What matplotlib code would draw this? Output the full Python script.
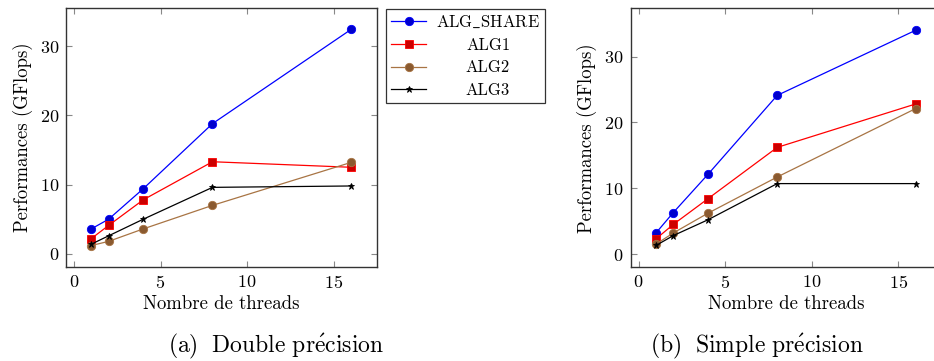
import matplotlib
matplotlib.use("Agg")
import matplotlib.pyplot as plt
from matplotlib.lines import Line2D

plt.rcParams['font.family'] = ['cmr10', 'DejaVu Serif']
plt.rcParams['axes.formatter.use_mathtext'] = True
plt.rcParams['mathtext.fontset'] = 'cm'

# nombre de threads
threads = [1, 2, 4, 8, 16]
labels = [r'$\mathrm{ALG\_SHARE}$', 'ALG1', 'ALG2', 'ALG3']
captions = [r'$\mathrm{(a)\ \ Double\ pr\acute{e}cision}$',
            r'$\mathrm{(b)\ \ Simple\ pr\acute{e}cision}$']

# (a) double precision
double_share = [3.6, 5.0, 9.4, 18.8, 32.4]
double_alg1 = [2.2, 4.1, 7.8, 13.3, 12.5]
double_alg2 = [1.2, 1.8, 3.6, 7.0, 13.2]
double_alg3 = [1.4, 2.6, 5.0, 9.6, 9.8]

# (b) simple precision
simple_share = [3.2, 6.3, 12.1, 24.1, 34.0]
simple_alg1 = [2.3, 4.5, 8.4, 16.2, 22.8]
simple_alg2 = [1.5, 3.2, 6.2, 11.7, 22.1]
simple_alg3 = [1.3, 2.8, 5.2, 10.7, 10.7]

# style pgfplots: (couleur ligne, remplissage marqueur, marqueur, taille)
styles = [
    ('#0000ff', '#0000cc', 'o', 6),
    ('#ff0000', '#cc0000', 's', 6),
    ('#a87444', '#8a5a30', 'o', 6),
    ('#000000', '#000000', '*', 5),
]

fig = plt.figure(figsize=(9.34, 3.61), dpi=100)

def draw_panel(ax, series, ylim):
    for ys, (lc, fc, m, ms) in zip(series, styles):
        ax.plot(threads, ys, color=lc, lw=0.9, marker=m, markersize=ms,
                markerfacecolor=fc, markeredgecolor=lc, markeredgewidth=0.6)
    ax.set_xlim(-0.46, 17.5)
    ax.set_ylim(*ylim)
    ax.set_xticks([0, 5, 10, 15])
    ax.set_yticks([0, 10, 20, 30])
    ax.tick_params(direction='in', top=True, right=True, color='#888888',
                   length=4, labelsize=13, pad=5)
    for s in ax.spines.values():
        s.set_linewidth(1.0)
        s.set_color('#333333')
    ax.set_xlabel('Nombre de threads', fontsize=13.5, labelpad=3)
    ax.set_ylabel('Performances (GFlops)', fontsize=13.5, labelpad=5)

ax1 = fig.add_axes([66 / 934, 94 / 361, 311 / 934, 259 / 361])
draw_panel(ax1, [double_share, double_alg1, double_alg2, double_alg3], (-1.9, 35.5))

ax2 = fig.add_axes([630.7 / 934, 94 / 361, 311 / 934, 258.5 / 361])
draw_panel(ax2, [simple_share, simple_alg1, simple_alg2, simple_alg3], (-1.97, 37.3))

fig.text(276 / 934, 1 - 346 / 361, captions[0], ha='center', va='center', fontsize=17)
fig.text(757 / 934, 1 - 346 / 361, captions[1], ha='center', va='center', fontsize=17)

handles = [Line2D([], [], color=lc, lw=0.9, marker=m, markersize=ms,
                  markerfacecolor=fc, markeredgecolor=lc, markeredgewidth=0.6)
           for lc, fc, m, ms in styles]
leg = fig.legend(handles, labels, loc='upper left', bbox_to_anchor=(386 / 934, 1 - 8.5 / 361),
                 fontsize=12, frameon=True, fancybox=False, edgecolor='black',
                 handlelength=2.1, handletextpad=0.6, borderpad=0.3, labelspacing=0.45,
                 borderaxespad=0)
leg.get_frame().set_linewidth(0.9)

# centrer les libellés comme dans pgfplots
fig.canvas.draw()
renderer = fig.canvas.get_renderer()
texts = leg.get_texts()
widths = [t.get_window_extent(renderer).width for t in texts]
wmax = max(widths)
for t, w in zip(texts, widths):
    t.set_x((wmax - w) / 2)

fig.savefig('out.png', dpi=100)
